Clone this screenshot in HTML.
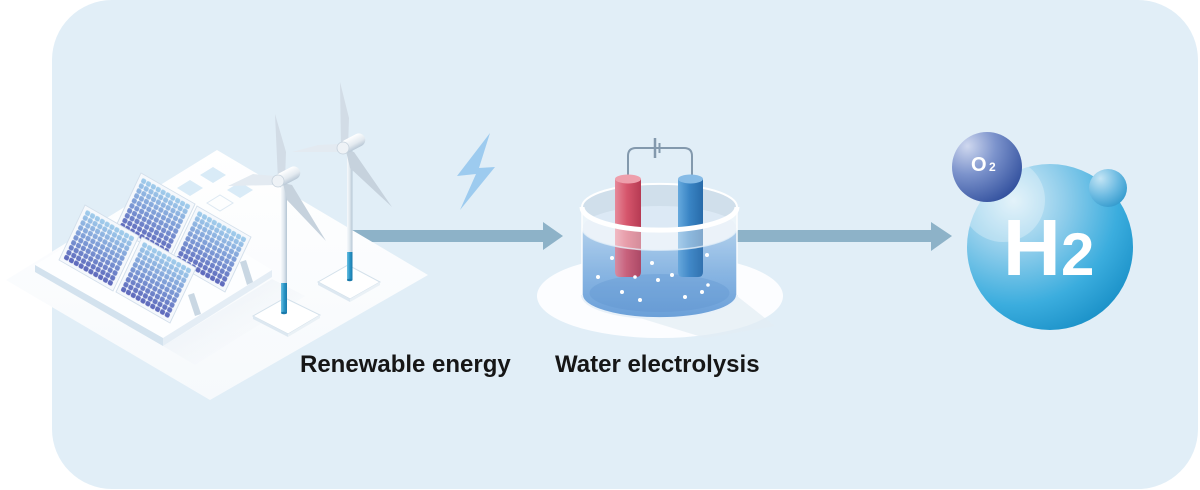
<!DOCTYPE html>
<html><head><meta charset="utf-8"><style>
html,body{margin:0;padding:0;background:#fff;}
svg{display:block;}
text{font-family:"Liberation Sans",Arial,sans-serif;}
</style></head><body>
<svg width="1200" height="490" viewBox="0 0 1200 490" xmlns="http://www.w3.org/2000/svg">
<defs>
  <linearGradient id="floorG" x1="0" y1="0" x2="0" y2="1">
    <stop offset="0" stop-color="#ffffff"/><stop offset="1" stop-color="#f6f9fc"/>
  </linearGradient>
  <linearGradient id="panelG" x1="0" y1="0" x2="0" y2="100" gradientUnits="userSpaceOnUse">
    <stop offset="0" stop-color="#a6d4ef"/><stop offset="0.5" stop-color="#7d9bd6"/><stop offset="1" stop-color="#5a62b8"/>
  </linearGradient>
  <pattern id="dotpat" x="5" y="5" width="9" height="9" patternUnits="userSpaceOnUse">
    <rect x="0.5" y="0.5" width="8" height="8" rx="3.2" fill="#fff"/>
  </pattern>
  <mask id="dots" maskUnits="userSpaceOnUse" x="0" y="0" width="100" height="100">
    <rect x="5" y="5" width="90" height="90" fill="url(#dotpat)"/>
  </mask>
  <g id="panel">
    <rect x="0" y="0" width="100" height="100" fill="#f5f8fc" stroke="#d3dfeb" stroke-width="1.5"/>
    <rect x="5" y="5" width="90" height="90" fill="url(#panelG)" mask="url(#dots)"/>
  </g>
  <linearGradient id="towerG" x1="0" y1="0" x2="1" y2="0">
    <stop offset="0" stop-color="#f7fafc"/><stop offset="0.5" stop-color="#dfe7ee"/><stop offset="1" stop-color="#b4c5d4"/>
  </linearGradient>
  <linearGradient id="towerB" x1="0" y1="0" x2="1" y2="0">
    <stop offset="0" stop-color="#6cbfe0"/><stop offset="0.5" stop-color="#2a97c8"/><stop offset="1" stop-color="#1a7aab"/>
  </linearGradient>
  <linearGradient id="nacG" x1="0" y1="0" x2="0" y2="1">
    <stop offset="0" stop-color="#ffffff"/><stop offset="0.6" stop-color="#e3eaf0"/><stop offset="1" stop-color="#b9c8d6"/>
  </linearGradient>
  <linearGradient id="waterG" x1="0" y1="228" x2="0" y2="318" gradientUnits="userSpaceOnUse">
    <stop offset="0" stop-color="#bcd7ef"/><stop offset="0.5" stop-color="#8db9e4"/><stop offset="1" stop-color="#6a9fd8"/>
  </linearGradient>
  <linearGradient id="redG" x1="0" y1="0" x2="1" y2="0">
    <stop offset="0" stop-color="#e6899a"/><stop offset="0.45" stop-color="#d6566c"/><stop offset="1" stop-color="#b63a53"/>
  </linearGradient>
  <linearGradient id="blueG" x1="0" y1="0" x2="1" y2="0">
    <stop offset="0" stop-color="#66a9dd"/><stop offset="0.45" stop-color="#3a85c5"/><stop offset="1" stop-color="#276aa9"/>
  </linearGradient>
  <radialGradient id="h2G" cx="0.28" cy="0.22" r="0.9">
    <stop offset="0" stop-color="#d9eef8"/><stop offset="0.35" stop-color="#8fcdeb"/><stop offset="0.7" stop-color="#3badde"/><stop offset="1" stop-color="#168dc5"/>
  </radialGradient>
  <radialGradient id="o2G" cx="0.22" cy="0.2" r="0.9">
    <stop offset="0" stop-color="#cfd8ef"/><stop offset="0.45" stop-color="#7c93cc"/><stop offset="1" stop-color="#34529f"/>
  </radialGradient>
  <radialGradient id="smG" cx="0.3" cy="0.25" r="0.85">
    <stop offset="0" stop-color="#c4e5f5"/><stop offset="0.55" stop-color="#6dbbe2"/><stop offset="1" stop-color="#2f98cc"/>
  </radialGradient>
  <clipPath id="h2clip"><circle cx="1050" cy="247" r="83"/></clipPath>
  <linearGradient id="shadowG" x1="0" y1="0" x2="1" y2="1">
    <stop offset="0" stop-color="#d9e4ee"/><stop offset="1" stop-color="#ffffff" stop-opacity="0"/>
  </linearGradient>
</defs>

<!-- background -->
<rect x="52" y="0" width="1146" height="489" rx="60" fill="#e1eef7"/>

<!-- arrows -->
<rect x="340" y="230" width="205" height="12" fill="#8db2c8"/>
<polygon points="543,222 563,236 543,250" fill="#8db2c8"/>
<rect x="730" y="230" width="203" height="12" fill="#8db2c8"/>
<polygon points="931,222 952,236 931,251" fill="#8db2c8"/>

<!-- lightning -->
<polygon points="490,133 457,176 476,174 460,210 495,167 479,168" fill="#9dcbef"/>

<!-- floor -->
<polygon points="6,280 217,150 428,275 210,400" fill="url(#floorG)"/>
<polygon points="163,346 272,279 305,296 195,365" fill="url(#shadowG)" opacity="0.7"/>
<!-- tiles -->
<polygon points="200,175 213,167 226,175 213,183" fill="#d9ebf7"/>
<polygon points="227,190 240,182 253,190 240,198" fill="#d9ebf7"/>
<polygon points="177,188 190,180 203,188 190,196" fill="#d9ebf7"/>
<polygon points="207,203 220,195 233,203 220,211" fill="none" stroke="#dde9f2" stroke-width="1"/>

<!-- solar slab -->
<polygon points="35,265 150,196 272,270 163,338" fill="#fdfeff"/>
<polygon points="35,265 163,338 163,346 35,272" fill="#d3e2ee"/>
<polygon points="163,338 272,270 272,277 163,346" fill="#e4edf5"/>

<!-- legs -->
<polygon points="240,262 246,260 253,282 247,285" fill="#c9d7e3"/>
<polygon points="188,295 194,293 201,314 195,316" fill="#c9d7e3"/>
<polygon points="132,262 138,260 145,282 139,284" fill="#d2dde8"/>

<!-- panels -->
<use href="#panel" transform="matrix(0.54,0.31,-0.26,0.55,141,173)"/>
<use href="#panel" transform="matrix(0.54,0.31,-0.26,0.55,197,206)"/>
<use href="#panel" transform="matrix(0.54,0.31,-0.26,0.55,85,205)"/>
<use href="#panel" transform="matrix(0.54,0.31,-0.26,0.55,142,237)"/>

<!-- turbine 2 (back) -->
<polygon points="318,282 348,265 380,282 350,299" fill="#ffffff" stroke="#d4e1eb" stroke-width="1"/>
<polygon points="318,282 350,299 350,302 318,285" fill="#dde8f1"/>
<polygon points="350,299 380,282 380,285 350,302" fill="#eaf1f6"/>
<rect x="347" y="150" width="5.5" height="102" fill="url(#towerG)"/>
<rect x="347" y="252" width="5.5" height="28" fill="url(#towerB)"/>
<ellipse cx="349.7" cy="280" rx="2.8" ry="1.2" fill="#1a7aab"/>
<polygon points="292,152 318,145 339,144 340,152" fill="#e3eaf1"/>
<polygon points="341,148 340,82 349,118 348,148" fill="#d2dce6"/>
<polygon points="346,151 354,152 392,207 350,168" fill="#c6d2dd"/>
<g transform="translate(353,143) rotate(-28)">
  <rect x="-13" y="-6.5" width="26" height="13" rx="6.5" fill="url(#nacG)"/>
</g>
<circle cx="343" cy="148" r="6" fill="#eef2f6" stroke="#c5d1dc" stroke-width="0.8"/>

<!-- turbine 1 (front) -->
<polygon points="253,316 285,298 320,315 288,334" fill="#ffffff" stroke="#d4e1eb" stroke-width="1"/>
<polygon points="253,316 288,334 288,337 253,319" fill="#dde8f1"/>
<polygon points="288,334 320,315 320,318 288,337" fill="#eaf1f6"/>
<rect x="281" y="182" width="6" height="101" fill="url(#towerG)"/>
<rect x="281" y="283" width="6" height="30" fill="url(#towerB)"/>
<ellipse cx="284" cy="313" rx="3" ry="1.3" fill="#1a7aab"/>
<polygon points="228,186 253,174 274,176 275,185" fill="#e3eaf1"/>
<polygon points="278,180 275,114 286,152 285,180" fill="#d2dce6"/>
<polygon points="283,183 292,185 326,241 287,200" fill="#c6d2dd"/>
<g transform="translate(288,176) rotate(-28)">
  <rect x="-13" y="-6.5" width="26" height="13" rx="6.5" fill="url(#nacG)"/>
</g>
<circle cx="278" cy="181" r="6" fill="#eef2f6" stroke="#c5d1dc" stroke-width="0.8"/>

<!-- electrolysis platform -->
<ellipse cx="660" cy="296" rx="123" ry="42" fill="#fcfdff"/>
<path d="M640,318 L737,296 L775,326 L705,338 Z" fill="#e3ecf3" opacity="0.7"/>

<!-- container back -->
<ellipse cx="659.5" cy="207" rx="77" ry="23" fill="#d0dfeb"/>
<path d="M582,207 A77,23 0 0 1 737,207" fill="none" stroke="#ffffff" stroke-width="2"/>
<path d="M582,228 L582,295 A77,23 0 0 0 737,295 L737,228 Z" fill="url(#waterG)"/>
<ellipse cx="659.5" cy="228" rx="77" ry="22" fill="#dce9f5"/>
<ellipse cx="659.5" cy="293" rx="70" ry="19" fill="#5b93cf" opacity="0.35"/>

<!-- wire -->
<path d="M628,178 L628,156 Q628,148 636,148 L684,148 Q692,148 692,156 L692,178" fill="none" stroke="#8399ad" stroke-width="2"/>
<line x1="655" y1="138" x2="655" y2="158" stroke="#8399ad" stroke-width="2.5"/>
<line x1="659.5" y1="143" x2="659.5" y2="153" stroke="#8399ad" stroke-width="2"/>

<!-- electrodes -->
<path d="M615,179 L615,272 Q615,277 620,277 L636,277 Q641,277 641,272 L641,179 Z" fill="url(#redG)"/>
<ellipse cx="628" cy="179" rx="13" ry="4.5" fill="#ee9fac"/>
<path d="M678,179 L678,272 Q678,277 683,277 L698,277 Q703,277 703,272 L703,179 Z" fill="url(#blueG)"/>
<ellipse cx="690.5" cy="179" rx="12.5" ry="4.5" fill="#86bbe6"/>

<!-- front glass -->
<path d="M582,207 A77,23 0 0 0 737,207 L737,228 A77,22 0 0 1 582,228 Z" fill="#ffffff" opacity="0.42"/>
<path d="M582,228 A77,22 0 0 0 737,228 L737,295 A77,23 0 0 1 582,295 Z" fill="#6fa5dc" opacity="0.14"/>
<path d="M582,228 A77,22 0 0 0 737,228" fill="none" stroke="#e6f0f9" stroke-width="1.5" opacity="0.8"/>
<path d="M582,207 A77,23 0 0 0 737,207" fill="none" stroke="#ffffff" stroke-width="5"/>
<path d="M582,295 A77,23 0 0 0 737,295" fill="none" stroke="#e8f1f9" stroke-width="2"/>
<line x1="582" y1="207" x2="582" y2="295" stroke="#ffffff" stroke-width="2" opacity="0.7"/>
<line x1="737" y1="207" x2="737" y2="295" stroke="#ffffff" stroke-width="2" opacity="0.7"/>

<!-- bubbles -->
<g fill="#ffffff">
  <circle cx="612" cy="258" r="2"/><circle cx="598" cy="277" r="2"/><circle cx="652" cy="263" r="2"/>
  <circle cx="672" cy="275" r="2"/><circle cx="658" cy="280" r="2"/><circle cx="707" cy="255" r="2"/>
  <circle cx="622" cy="292" r="2"/><circle cx="640" cy="300" r="2"/><circle cx="685" cy="297" r="2"/>
  <circle cx="702" cy="292" r="2"/><circle cx="635" cy="277" r="1.8"/><circle cx="708" cy="285" r="1.8"/>
</g>

<!-- H2 molecule -->
<circle cx="1050" cy="247" r="83" fill="url(#h2G)"/>
<g clip-path="url(#h2clip)">
  <circle cx="1003" cy="200" r="42" fill="#ffffff" opacity="0.28"/>
</g>
<circle cx="1108" cy="188" r="19" fill="url(#smG)"/>
<circle cx="987" cy="167" r="35" fill="url(#o2G)"/>
<text x="971" y="171" font-size="20" font-weight="bold" fill="#ffffff">O</text>
<text x="989" y="171" font-size="12" font-weight="bold" fill="#ffffff">2</text>
<text x="1003" y="275" font-size="80" font-weight="bold" fill="#ffffff">H</text>
<text x="1061" y="275" font-size="60" font-weight="bold" fill="#ffffff">2</text>

<!-- labels -->
<text x="300" y="372" font-size="24" font-weight="bold" fill="#161616">Renewable energy</text>
<text x="555" y="372" font-size="24" font-weight="bold" fill="#161616">Water electrolysis</text>
</svg>
</body></html>
